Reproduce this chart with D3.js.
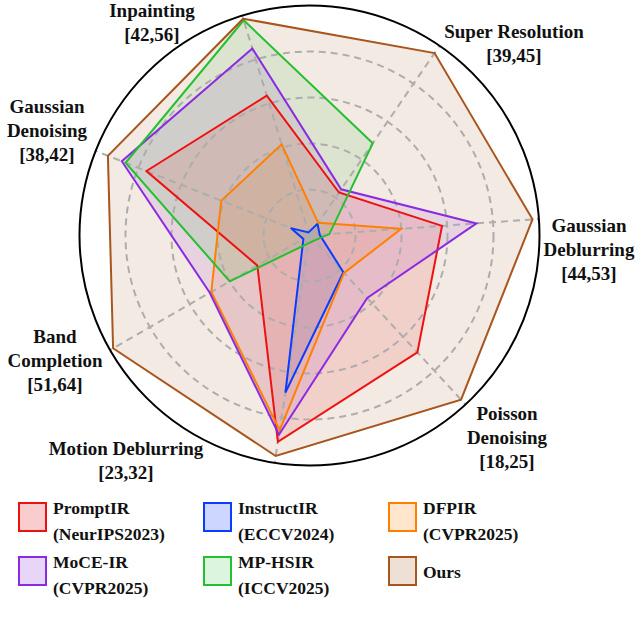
<!DOCTYPE html>
<html>
<head>
<meta charset="utf-8">
<script src="https://cdn.jsdelivr.net/npm/d3@7"></script>
<style>
	body{margin:0;background:#fff}
	text{font-family:"Liberation Serif","Times New Roman",serif;font-weight:bold;fill:#111}
</style>
</head>
<body>
<div id="graphHolder"></div>
<script>
//axes, clockwise from Inpainting
const axes = ['Inpainting','Super Resolution','Gaussian Deblurring','Poisson Denoising','Motion Deblurring','Band Completion','Gaussian Denoising']
const axisLines = [['Inpainting'],['Super Resolution'],['Gaussian','Deblurring'],['Poisson','Denoising'],['Motion Deblurring'],['Band','Completion'],['Gaussian','Denoising']]
const axisRanges = [[42,56],[39,45],[44,53],[18,25],[23,32],[51,64],[38,42]]

const methods = ['PromptIR','InstructIR','DFPIR','MoCE-IR','MP-HSIR','Ours']
const venues = ['(NeurIPS2023)','(ECCV2024)','(CVPR2025)','(CVPR2025)','(ICCV2025)','']

//values, same order as axes
const promptIR   = [50.9,40.36,49.2,22.84,31.17,54.4,41.05]
const instructIR = [42.2,39.37,44.4,19.52,29.22,51.4,38.35]
const dfpir      = [47.8,39.40,47.6,19.55,30.71,57.4,39.65]
const moceIR     = [53.9,40.46,50.55,20.59,30.89,57.5,41.51]
const mpHSIR     = [55.7,41.92,44.78,18.21,23.31,56.2,41.44]
const ours       = [55.8,44.77,52.75,24.80,31.73,63.8,41.77]
const seriesValues = [promptIR,instructIR,dfpir,moceIR,mpHSIR,ours]

const lineColors = ['#ee1111','#0a3cff','#ff8000','#8a2be2','#25c030','#a8551e']
const swatchFills = ['#f9cdcd','#ccd6ff','#ffe6cc','#e7d6f7','#dcf5de','#eee0d5']

function draw(){
	const width = 640,height = 632
	const cx = 309.5,cy = 235.5,R = 230
	const startAngle = -17 * Math.PI / 180
	const step = 2 * Math.PI / axes.length
	const angle = i => startAngle + i * step
	const scales = axisRanges.map(r => d3.scaleLinear().domain(r).range([0,R]))

	const svg = d3.select('#graphHolder').append('svg')
		.attr('width',width).attr('height',height)
	const g = svg.append('g').attr('transform',`translate(${cx},${cy})`)

	//polygons
	const radial = d3.lineRadial()
		.angle((d,i) => angle(i))
		.radius((d,i) => scales[i](d))
		.curve(d3.curveLinearClosed)
	g.selectAll('path.fill').data(seriesValues).enter().append('path')
		.attr('d',d => radial(d))
		.attr('fill',(d,i) => lineColors[i])
		.attr('fill-opacity',0.12)
		.attr('stroke','none')

	//grid rings
	const rings = d3.range(1,5).map(k => k * R / 5)
	g.selectAll('circle.ring').data(rings).enter().append('circle')
		.attr('r',d => d)
		.attr('fill','none')
		.attr('stroke','#adadad')
		.attr('stroke-width',2)
		.attr('stroke-dasharray','7,5')
	//spokes
	g.selectAll('line.spoke').data(axes).enter().append('line')
		.attr('x1',0).attr('y1',0)
		.attr('x2',(d,i) => R * Math.sin(angle(i)))
		.attr('y2',(d,i) => -R * Math.cos(angle(i)))
		.attr('stroke','#adadad')
		.attr('stroke-width',2)
		.attr('stroke-dasharray','7,5')

	g.selectAll('path.series').data(seriesValues).enter().append('path')
		.attr('d',d => radial(d))
		.attr('fill','none')
		.attr('stroke',(d,i) => lineColors[i])
		.attr('stroke-width',2)

	//outer circle
	g.append('circle').attr('r',R)
		.attr('fill','none').attr('stroke','#000').attr('stroke-width',2)

	//axis labels, first baseline of each block
	const labelPos = [[152,17],[514,38],[589,232],[507,420],[126,455],[55,343],[47,113]]
	const lh = 24
	axes.forEach((a,i) => {
		const lines = axisLines[i].concat([`[${axisRanges[i][0]},${axisRanges[i][1]}]`])
		const t = svg.append('text')
			.attr('text-anchor','middle')
			.attr('font-size',19)
		lines.forEach((s,j) => {
			t.append('tspan')
				.attr('x',labelPos[i][0])
				.attr('y',labelPos[i][1] + j * lh)
				.text(s)
		})
	})

	//legend 3 x 2
	const colX = [18,203,388],rowY = [502,556]
	const lg = svg.selectAll('g.legend').data(methods).enter().append('g')
		.attr('transform',(d,i) => `translate(${colX[i % 3]},${rowY[Math.floor(i / 3)]})`)
	lg.append('rect')
		.attr('x',1).attr('y',1)
		.attr('width',27).attr('height',28)
		.attr('fill',(d,i) => swatchFills[i])
		.attr('stroke',(d,i) => lineColors[i])
		.attr('stroke-width',2)
	lg.append('text')
		.attr('font-size',17.5)
		.each(function(d,i){
			const t = d3.select(this)
			if(venues[i]){
				t.append('tspan').attr('x',35).attr('y',12).text(d)
				t.append('tspan').attr('x',35).attr('y',38).text(venues[i])
			}else{
				t.append('tspan').attr('x',35).attr('y',22).text(d)
			}
		})
}
draw()
</script>
</body>
</html>
